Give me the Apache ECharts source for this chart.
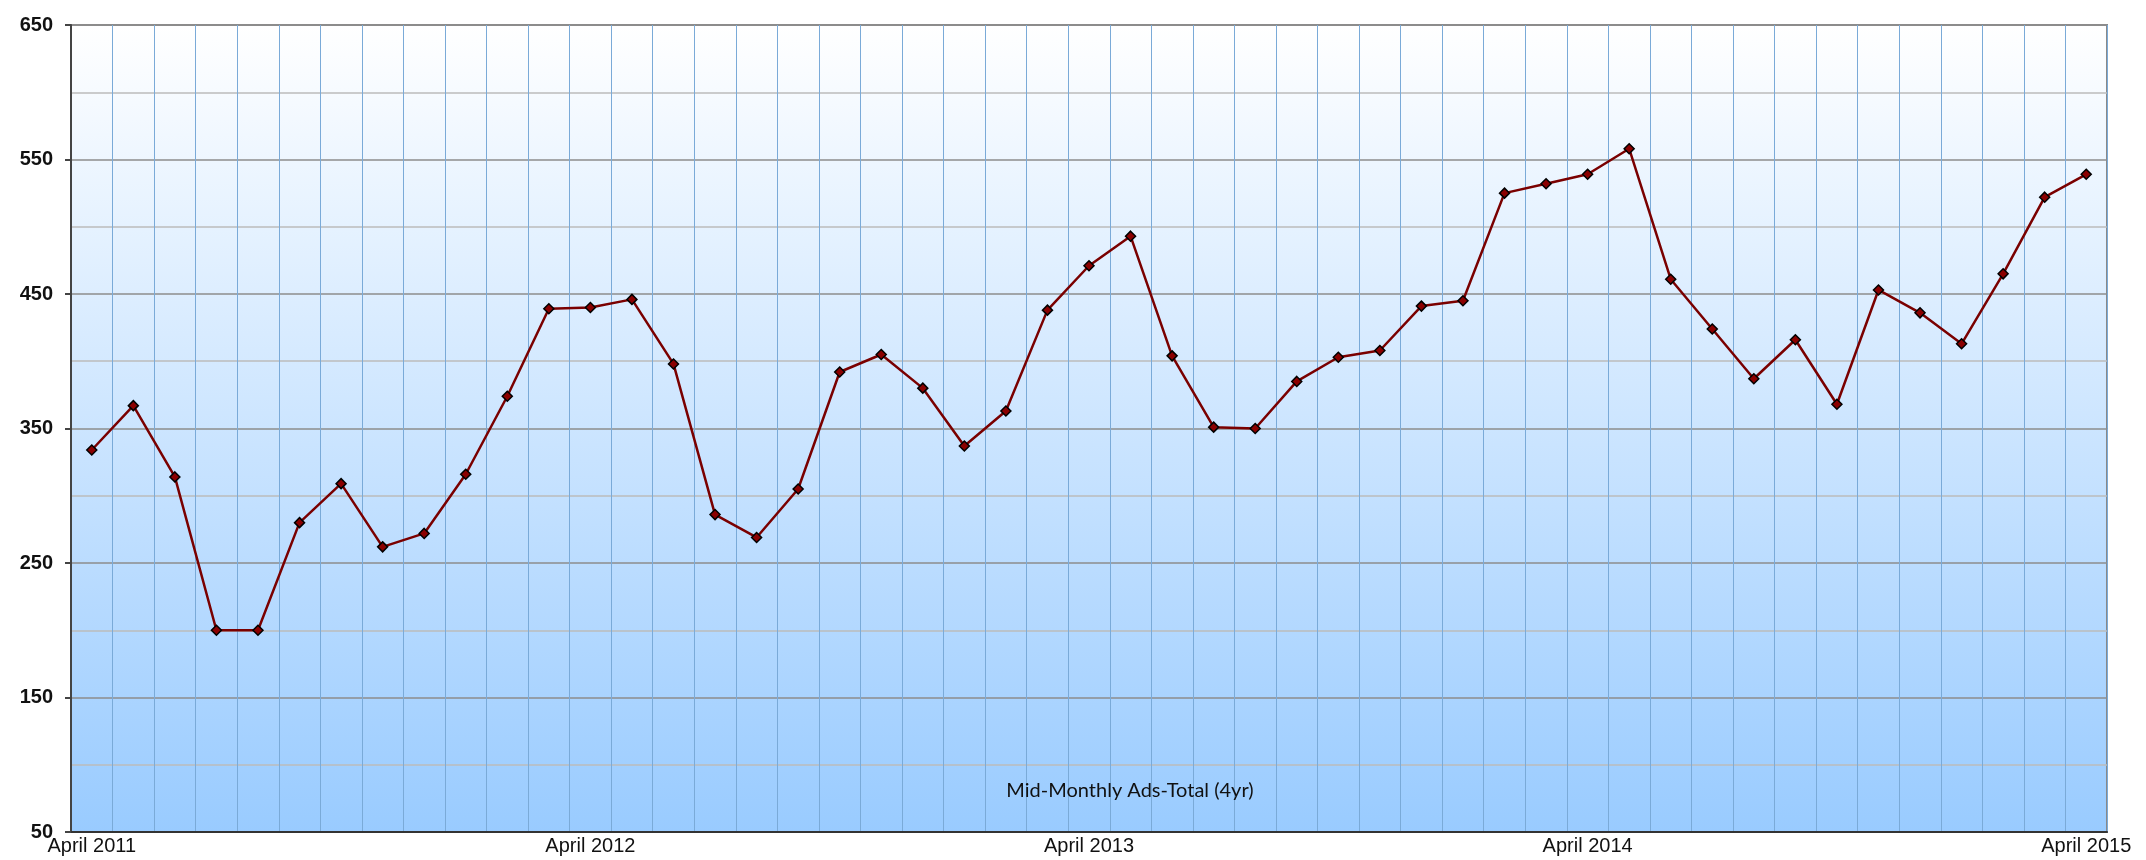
<!DOCTYPE html>
<html>
<head>
<meta charset="utf-8">
<script src="https://cdn.jsdelivr.net/npm/echarts@6/dist/echarts.min.js"></script>
<style>
  html, body { margin: 0; padding: 0; background: #ffffff; }
  #chart { width: 2146px; height: 860px; }
</style>
</head>
<body>
<div id="chart"></div>
<script>
const monthNames = ['April','May','June','July','August','September','October','November','December','January','February','March'];
const startYear = 2011;
const months = [];
for (let i = 0; i < 49; i++) {
  const m = monthNames[i % 12];
  const y = startYear + Math.floor((i + 3) / 12);
  months.push(m + ' ' + y);
}
const adsTotal = [334,367,314,200,200,280,309,262,272,316,
                  374,439,440,446,398,286,269,305,392,405,
                  380,337,363,438,471,493,404,351,350,385,
                  403,408,441,445,525,532,539,558,461,424,
                  387,416,368,453,436,413,465,522,539];
const yTicks = [50,150,250,350,450,550,650];
const chartTitle = 'Mid-Monthly Ads-Total (4yr)';

const chart = echarts.init(document.getElementById('chart'), null, {renderer: 'canvas'});
chart.setOption({
  animation: false,
  title: {
    text: chartTitle,
    left: 1125, top: 776, textAlign: 'center',
    textStyle: {fontFamily: 'Lato', fontSize: 20, fontWeight: 'normal', color: '#111'}
  },
  grid: {
    left: 71, right: 39, top: 25, bottom: 28,
    show: true,
    borderColor: '#8a8a8a', borderWidth: 2,
    backgroundColor: new echarts.graphic.LinearGradient(0, 0, 0, 1, [
      {offset: 0, color: '#ffffff'},
      {offset: 1, color: '#99cbff'}
    ])
  },
  xAxis: {
    type: 'category',
    data: months,
    boundaryGap: true,
    axisLine: {lineStyle: {color: '#333', width: 2}},
    axisTick: {show: false},
    axisLabel: {
      interval: 11, margin: 4,
      fontFamily: 'Liberation Sans', fontSize: 20, color: '#111'
    },
    splitLine: {show: true, interval: 0, lineStyle: {color: '#7aaad8', width: 1}}
  },
  yAxis: {
    type: 'value',
    min: yTicks[0], max: yTicks[yTicks.length - 1], interval: 100,
    axisLine: {show: true, lineStyle: {color: '#444', width: 2}},
    axisTick: {show: true, length: 6, lineStyle: {color: '#444', width: 2}},
    axisLabel: {
      margin: 18,
      fontFamily: 'Liberation Sans', fontSize: 20, fontWeight: 'bold', color: '#111'
    },
    splitLine: {show: true, lineStyle: {color: '#8c8c8c', width: 1.5}},
    minorTick: {show: false, splitNumber: 2},
    minorSplitLine: {show: true, lineStyle: {color: '#bcbcbc', width: 1.5}}
  },
  series: [{
    type: 'line',
    data: adsTotal,
    symbol: 'diamond',
    symbolSize: 10,
    lineStyle: {color: '#7a0000', width: 2.5},
    itemStyle: {color: '#8b0000', borderColor: '#000', borderWidth: 1.5}
  }]
});
</script>
</body>
</html>
